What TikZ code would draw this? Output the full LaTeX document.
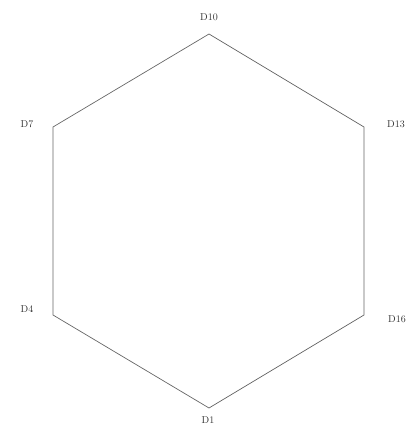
\documentclass[tikz,border=0pt]{standalone}
\begin{document}
\begin{tikzpicture}[x=1pt,y=-1pt,
  edge/.style={draw=black!60,line width=0.7pt},
  lbl/.style={font=\fontsize{10}{12}\selectfont,text=black!80,inner sep=0pt}]
\useasboundingbox (0,0) rectangle (411,433);
\coordinate (v10) at (209,34);
\coordinate (v13) at (364,127);
\coordinate (v16) at (364,315);
\coordinate (v1) at (209,408);
\coordinate (v4) at (53,315);
\coordinate (v7) at (53,127);
\draw[edge,line join=miter] (v10) -- (v13) -- (v16) -- (v1) -- (v4) -- (v7) -- cycle;
\node[lbl] (l10) at (209,17) {D10};
\node[lbl] (l13) at (396,124) {D13};
\node[lbl] (l16) at (397,319) {D16};
\node[lbl] (l1) at (208,420) {D1};
\node[lbl] (l4) at (27,309) {D4};
\node[lbl] (l7) at (27,124) {D7};
\end{tikzpicture}
\end{document}
